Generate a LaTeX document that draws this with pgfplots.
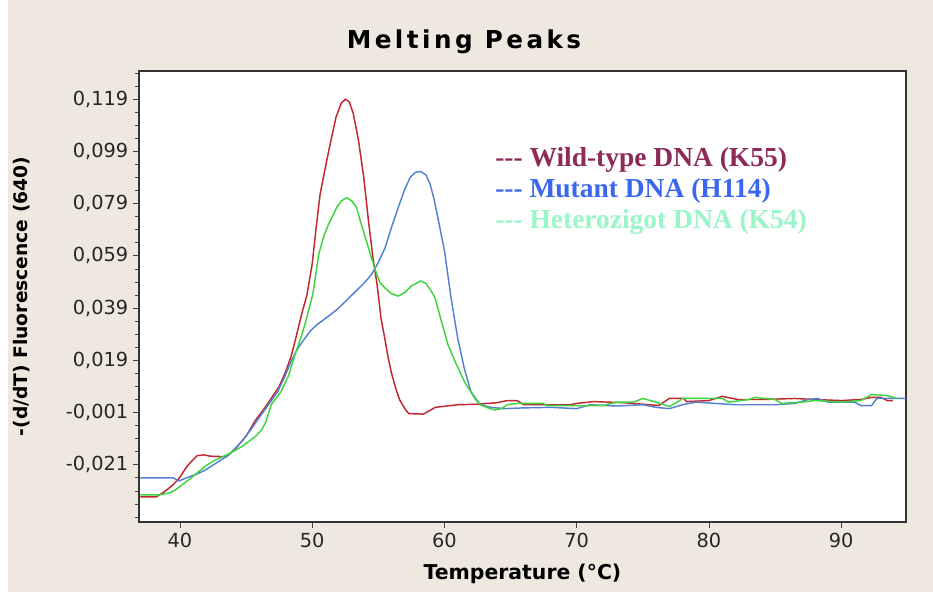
\documentclass[border=0pt]{standalone}
\usepackage{fontspec}
\setmainfont{DejaVu Sans}
\newfontfamily\titlefont[LetterSpace=14]{DejaVu Sans}
\newfontfamily\legendfont{Liberation Serif}
\usepackage{pgfplots}
\pgfplotsset{compat=1.18}

\definecolor{panel}{HTML}{EEE8DF}
\definecolor{wtline}{HTML}{C0272F}
\definecolor{mutline}{HTML}{5382D2}
\definecolor{hetline}{HTML}{3ED43E}
\definecolor{wttext}{HTML}{8E2A58}
\definecolor{muttext}{HTML}{3A66F0}
\definecolor{hettext}{HTML}{9AF5C8}

\begin{document}
\begin{tikzpicture}
% page and panel
\fill[white] (-104.25pt,-57pt) rectangle (595.5pt,391.5pt);
\fill[panel] (-98.25pt,-52.5pt) rectangle (595.5pt,391.5pt);
\begin{axis}[
  at={(0,0)}, anchor=south west,
  scale only axis,
  width=575.25pt, height=338.25pt,
  xmin=36.9, xmax=94.9,
  ymin=-0.0429, ymax=0.1298,
  axis background/.style={fill=white},
  axis line style={draw=black!80, line width=1.2pt},
  tick align=outside,
  tick style={black!75, line width=0.6pt},
  major tick length=4.5pt,
  minor tick length=3pt,
  xtick={40,50,60,70,80,90},
  ytick={-0.021,-0.001,0.019,0.039,0.059,0.079,0.099,0.119},
  minor ytick={-0.041,-0.036,-0.031,-0.026,-0.016,-0.011,-0.006,0.004,0.009,0.014,0.024,0.029,0.034,0.044,0.049,0.054,0.064,0.069,0.074,0.084,0.089,0.094,0.104,0.109,0.114,0.124,0.129},
  xtick pos=bottom, ytick pos=left,
  scaled y ticks=false,
  yticklabel style={/pgf/number format/.cd, fixed, fixed zerofill, precision=3, use comma, assume math mode=true},
  xticklabel style={/pgf/number format/assume math mode=true},
  tick label style={font=\fontsize{14.5}{17}\selectfont, text=black!85},
  xlabel={Temperature (°C)},
  ylabel={-(d/dT) Fluorescence (640)},
  xlabel style={font=\fontsize{15.3}{18}\selectfont\bfseries, at={(rel axis cs:0.5,0)}, anchor=base, yshift=-43.5pt},
  ylabel style={font=\fontsize{14}{17}\selectfont\bfseries, at={(rel axis cs:0,0.5)}, anchor=center, rotate=0, yshift=87.75pt},
  clip=true,
]
% wild-type DNA (K55)
\addplot[wtline, line width=1.1pt] coordinates {
(37.0,-0.0333) (38.2,-0.0333) (38.8,-0.0314) (39.4,-0.0290) (39.9,-0.0264)
(40.5,-0.0218) (40.9,-0.0195) (41.3,-0.0175) (41.8,-0.0172) (42.3,-0.0177)
(43.5,-0.0179) (44.2,-0.0148) (45.0,-0.0100) (45.7,-0.0040) (46.3,0.0000)
(46.9,0.0044) (47.5,0.0090) (48.0,0.0148) (48.4,0.0205) (48.7,0.0263)
(49.2,0.0367) (49.6,0.0440) (50.0,0.0560) (50.3,0.0700) (50.6,0.0828)
(51.0,0.0930) (51.3,0.1005) (51.8,0.1121) (52.2,0.1175) (52.5,0.1190)
(52.8,0.1180) (53.1,0.1136) (53.5,0.1032) (53.9,0.0890) (54.25,0.0725)
(54.6,0.0580) (54.9,0.0482) (55.2,0.0352) (55.5,0.0270) (55.75,0.0198)
(56.0,0.0140) (56.3,0.0085) (56.6,0.0040) (57.0,0.0005) (57.3,-0.0014)
(58.4,-0.0016) (58.8,-0.0005) (59.3,0.0010) (61.0,0.0020) (62.5,0.0022)
(64.0,0.0028) (64.75,0.0036) (65.5,0.0036) (66.0,0.0020) (69.5,0.0020)
(70.0,0.0025) (71.3,0.0032) (73.5,0.0028) (75.5,0.0020) (76.2,0.0017)
(77.0,0.0044) (78.1,0.0044) (78.3,0.0032) (80.0,0.0036) (81.0,0.0052)
(82.2,0.0040) (84.0,0.0040) (86.5,0.0044) (88.0,0.0040) (90.0,0.0036)
(91.5,0.0040) (92.3,0.0048) (93.0,0.0048) (93.5,0.0036) (93.9,0.0036)
};
% mutant DNA (H114)
\addplot[mutline, line width=1.1pt] coordinates {
(37.0,-0.0260) (39.5,-0.0260) (39.9,-0.0272) (40.7,-0.0256) (41.3,-0.0245)
(41.95,-0.0229) (42.9,-0.0198) (43.7,-0.0172) (44.65,-0.0122) (45.4,-0.0072)
(46.15,-0.0018) (46.8,0.0028) (47.4,0.0071) (47.9,0.0125) (48.4,0.0186)
(48.9,0.0235) (49.45,0.0275) (49.9,0.0305) (50.4,0.0328) (51.2,0.0358)
(51.9,0.0386) (52.6,0.0420) (53.3,0.0455) (54.0,0.0490) (54.5,0.0520)
(55.0,0.0565) (55.5,0.0620) (56.0,0.0700) (56.5,0.0775) (57.0,0.0845)
(57.4,0.0890) (57.8,0.0910) (58.2,0.0913) (58.6,0.0900) (58.9,0.0867)
(59.2,0.0810) (59.5,0.0736) (60.0,0.0610) (60.5,0.0428) (61.0,0.0275)
(61.5,0.0159) (62.0,0.0070) (62.7,0.0020) (63.5,0.0010) (64.5,0.0005)
(66.0,0.0008) (68.0,0.0010) (70.0,0.0005) (71.0,0.0020) (73.0,0.0015)
(75.0,0.0020) (76.0,0.0010) (77.0,0.0005) (78.0,0.0020) (79.0,0.0030)
(82.0,0.0020) (85.0,0.0020) (86.5,0.0025) (87.5,0.0040) (88.2,0.0044)
(89.0,0.0030) (91.0,0.0030) (91.5,0.0017) (92.3,0.0017) (92.7,0.0044)
(95.0,0.0044)
};
% heterozygous DNA (K54)
\addplot[hetline, line width=1.1pt] coordinates {
(37.0,-0.0325) (38.4,-0.0325) (39.2,-0.0318) (39.7,-0.0305) (40.15,-0.0287)
(40.8,-0.0262) (41.4,-0.0237) (42.0,-0.0212) (42.7,-0.0191) (43.7,-0.0168)
(44.65,-0.0141) (45.7,-0.0102) (46.2,-0.0075) (46.5,-0.0045) (46.9,0.0020)
(47.65,0.0071) (48.2,0.0130) (48.7,0.0213) (49.1,0.0270) (49.45,0.0328)
(50.05,0.0444) (50.5,0.0598) (50.9,0.0670) (51.25,0.0713) (51.85,0.0775)
(52.2,0.0800) (52.6,0.0813) (53.0,0.0800) (53.35,0.0775) (53.7,0.0713)
(54.25,0.0621) (54.8,0.0532) (55.1,0.0490) (55.5,0.0467) (56.0,0.0445)
(56.5,0.0436) (57.0,0.0450) (57.5,0.0475) (58.2,0.0494) (58.6,0.0485)
(59.0,0.0455) (59.3,0.0428) (59.7,0.0352) (60.25,0.0252) (60.8,0.0186)
(61.5,0.0109) (62.3,0.0044) (62.7,0.0020) (63.3,0.0008) (63.8,0.0000)
(64.3,0.0005) (64.75,0.0020) (65.5,0.0025) (67.5,0.0025) (67.75,0.0017)
(72.0,0.0017) (73.0,0.0030) (74.3,0.0030) (75.0,0.0044) (76.0,0.0030)
(77.0,0.0013) (77.6,0.0030) (78.0,0.0044) (81.0,0.0044) (81.5,0.0030)
(83.0,0.0040) (83.5,0.0048) (85.0,0.0040) (85.5,0.0025) (87.0,0.0030)
(88.0,0.0036) (90.0,0.0030) (91.5,0.0036) (92.3,0.0059) (93.5,0.0055)
(94.2,0.0044)
};
\end{axis}
% title
\node[anchor=base, font=\titlefont\fontsize{18.5}{22}\selectfont\bfseries] at (243.75pt,354.75pt) {Melting Peaks};
% series key
\begin{scope}[every node/.style={anchor=base west, inner sep=0pt, font=\legendfont\fontsize{20.6}{24}\selectfont\bfseries}]
\node[text=wttext]  at (267pt,266.25pt) {-{}-{}- Wild-type DNA (K55)};
\node[text=muttext] at (267pt,243pt)    {-{}-{}- Mutant DNA (H114)};
\node[text=hettext] at (267pt,219.75pt) {-{}-{}- Heterozigot DNA (K54)};
\end{scope}
\pgfresetboundingbox
\path (-104.25pt,-57pt) rectangle (595.5pt,391.5pt);
\end{tikzpicture}
\end{document}
